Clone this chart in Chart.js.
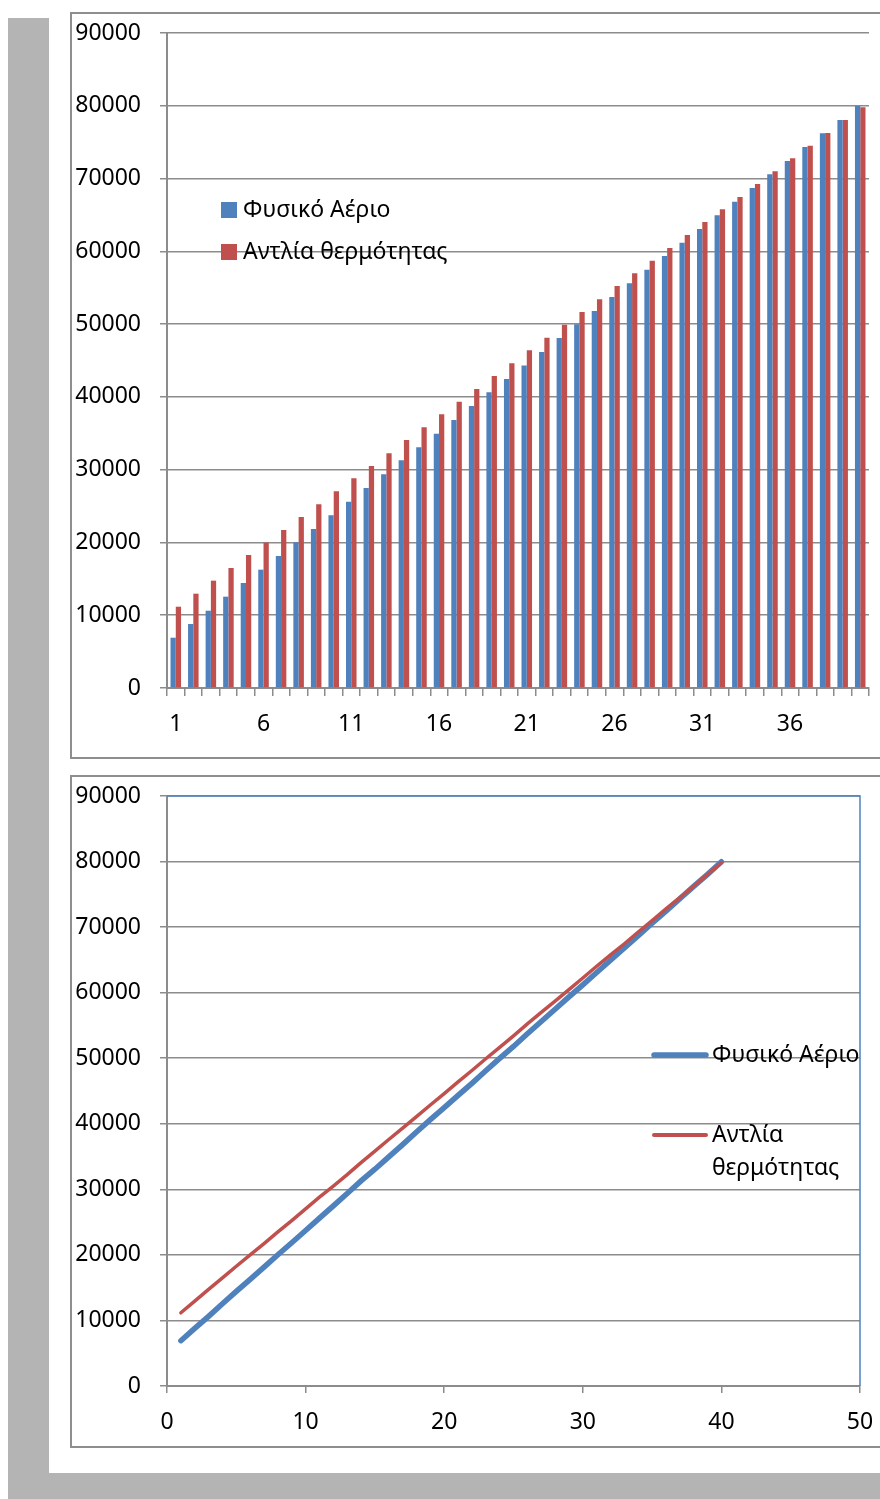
<!DOCTYPE html>
<html lang="el">
<head>
<meta charset="UTF-8">
<title>Φυσικό Αέριο - Αντλία θερμότητας</title>
<script src="https://cdn.jsdelivr.net/npm/chart.js"></script>
<style>
  html, body { margin: 0; padding: 0; background: #fff; overflow: hidden; }
  body { width: 880px; height: 1499px; position: relative; }
  .grey { position: absolute; background: #b4b4b4; }
  .frame { position: absolute; left: 70px; border: 2px solid #8e8e8e; background: #fff; }
  .frame canvas { display: block; }
</style>
</head>
<body>
<div class="grey" style="left:8px;top:18px;width:41px;height:1481px"></div>
<div class="grey" style="left:8px;top:1473px;width:872px;height:26px"></div>

<div class="frame" style="top:12px;width:830px;height:743px">
  <canvas id="barChart" width="810" height="743"></canvas>
</div>
<div class="frame" style="top:775px;width:830px;height:669px">
  <canvas id="lineChart" width="810" height="669"></canvas>
</div>

<script>
// values
const years = [1, 2, 3, 4, 5, 6, 7, 8, 9, 10, 11, 12, 13, 14, 15, 16, 17, 18, 19, 20,
               21, 22, 23, 24, 25, 26, 27, 28, 29, 30, 31, 32, 33, 34, 35, 36, 37, 38, 39, 40];
const gasCost = [6910, 8790, 10620, 12550, 14430, 16260, 18140, 20020, 21850, 23720,
                 25600, 27480, 29360, 31280, 33070, 34950, 36820, 38750, 40630, 42460,
                 44330, 46170, 48090, 49970, 51800, 53720, 55600, 57480, 59360, 61190,
                 63070, 64950, 66820, 68700, 70580, 72410, 74330, 76210, 78040, 79970];
const pumpCost = [11170, 12960, 14750, 16490, 18270, 19990, 21710, 23500, 25240, 27020,
                  28810, 30500, 32240, 34070, 35820, 37600, 39340, 41080, 42870, 44610,
                  46400, 48130, 49920, 51660, 53410, 55240, 56980, 58710, 60460, 62240,
                  64030, 65770, 67460, 69250, 70990, 72780, 74510, 76260, 78040, 79790];
const seriesNames = ['Φυσικό Αέριο', 'Αντλία θερμότητας'];
const yTicks = [0, 10000, 20000, 30000, 40000, 50000, 60000, 70000, 80000, 90000];
const xTicksLine = [0, 10, 20, 30, 40, 50];

const BLUE = '#4f81bd';
const RED = '#c0504d';
const GRID = '#8c8c8c';
const FONT = { family: "'Noto Sans', sans-serif", size: 23 };
const LEGEND_FONT = "23px 'Noto Sans', sans-serif";

// legend drawn inside the plot, like the spreadsheet one
const insideLegend = {
  id: 'insideLegend',
  afterDraw(chart, args, opts) {
    const ctx = chart.ctx;
    ctx.save();
    ctx.font = opts.font;
    ctx.textBaseline = 'middle';
    chart.data.datasets.forEach((ds, i) => {
      const y = opts.y[i];
      if (opts.kind === 'box') {
        ctx.fillStyle = ds.backgroundColor;
        ctx.fillRect(opts.x, y - 8, 16, 16);
      } else {
        ctx.strokeStyle = ds.borderColor;
        ctx.lineWidth = opts.lineWidths[i];
        ctx.lineCap = 'round';
        ctx.beginPath();
        ctx.moveTo(opts.x, y);
        ctx.lineTo(opts.x + opts.symbolWidth, y);
        ctx.stroke();
      }
      ctx.fillStyle = '#000';
      // simple word wrap
      const words = ds.label.split(' ');
      let line = '';
      let ly = y;
      words.forEach(w => {
        const test = line ? line + ' ' + w : w;
        if (opts.maxWidth && ctx.measureText(test).width > opts.maxWidth && line) {
          ctx.fillText(line, opts.textX, ly);
          line = w;
          ly += opts.lineHeight;
        } else {
          line = test;
        }
      });
      ctx.fillText(line, opts.textX, ly);
    });
    ctx.restore();
  }
};

// blue border on top and right of the line chart plot
const plotBorder = {
  id: 'plotBorder',
  afterDatasetsDraw(chart, args, opts) {
    if (!opts.color) return;
    const { top, right, left, bottom } = chart.chartArea;
    const ctx = chart.ctx;
    ctx.save();
    ctx.strokeStyle = opts.color;
    ctx.lineWidth = 1.5;
    ctx.beginPath();
    ctx.moveTo(left, top);
    ctx.lineTo(right, top);
    ctx.lineTo(right, bottom);
    ctx.stroke();
    ctx.restore();
  }
};

function yAxis() {
  return {
    min: 0,
    max: 90000,
    afterBuildTicks: s => { s.ticks = yTicks.map(v => ({ value: v })); },
    afterFit: s => { s.width = 95; s.paddingTop = 0; s.paddingBottom = 0; },
    grid: { color: GRID, lineWidth: 1.5, tickLength: 7 },
    border: { color: GRID, width: 2 },
    ticks: { font: FONT, color: '#000', padding: 19, callback: v => String(v) }
  };
}

new Chart(document.getElementById('barChart'), {
  type: 'bar',
  data: {
    labels: years,
    datasets: [
      { label: seriesNames[0], data: gasCost, backgroundColor: BLUE },
      { label: seriesNames[1], data: pumpCost, backgroundColor: RED }
    ]
  },
  options: {
    responsive: false,
    animation: false,
    events: [],
    datasets: { bar: { categoryPercentage: 0.6, barPercentage: 1.0 } },
    layout: { padding: { top: 19, right: 13, bottom: 0, left: 0 } },
    scales: {
      x: {
        afterFit: s => { s.height = 69; s.paddingLeft = 0; s.paddingRight = 0; },
        grid: { drawOnChartArea: false, color: GRID, lineWidth: 1.5, tickLength: 8, offset: true },
        border: { color: GRID, width: 2 },
        ticks: {
          autoSkip: false,
          maxRotation: 0,
          font: FONT,
          color: '#000',
          padding: 15,
          callback: function (v, i) { return i % 5 === 0 ? String(years[i]) : ''; }
        }
      },
      y: yAxis()
    },
    plugins: {
      legend: { display: false },
      tooltip: { enabled: false },
      insideLegend: {
        kind: 'box',
        font: LEGEND_FONT,
        x: 149, textX: 171, y: [196, 238]
      }
    }
  },
  plugins: [insideLegend]
});

const toPoints = arr => arr.map((v, i) => ({ x: years[i], y: v }));

new Chart(document.getElementById('lineChart'), {
  type: 'line',
  data: {
    datasets: [
      { label: seriesNames[0], data: toPoints(gasCost), borderColor: BLUE, borderWidth: 5.5,
        pointRadius: 0, borderCapStyle: 'round', order: 1 },
      { label: seriesNames[1], data: toPoints(pumpCost), borderColor: RED, borderWidth: 3.5,
        pointRadius: 0, borderCapStyle: 'round', order: 0 }
    ]
  },
  options: {
    responsive: false,
    animation: false,
    events: [],
    layout: { padding: { top: 19, right: 22, bottom: 0, left: 0 } },
    scales: {
      x: {
        type: 'linear',
        min: 0,
        max: 50,
        afterBuildTicks: s => { s.ticks = xTicksLine.map(v => ({ value: v })); },
        afterFit: s => { s.height = 60; s.paddingLeft = 0; s.paddingRight = 0; },
        grid: { drawOnChartArea: false, color: GRID, lineWidth: 1.5, tickLength: 7 },
        border: { color: GRID, width: 2 },
        ticks: { font: FONT, color: '#000', padding: 16, maxRotation: 0 }
      },
      y: yAxis()
    },
    plugins: {
      legend: { display: false },
      tooltip: { enabled: false },
      plotBorder: { color: BLUE },
      insideLegend: {
        kind: 'line',
        font: LEGEND_FONT,
        x: 582, symbolWidth: 52, textX: 640, y: [278, 358],
        lineWidths: [5.5, 4], maxWidth: 160, lineHeight: 33
      }
    }
  },
  plugins: [insideLegend, plotBorder]
});
</script>
</body>
</html>
